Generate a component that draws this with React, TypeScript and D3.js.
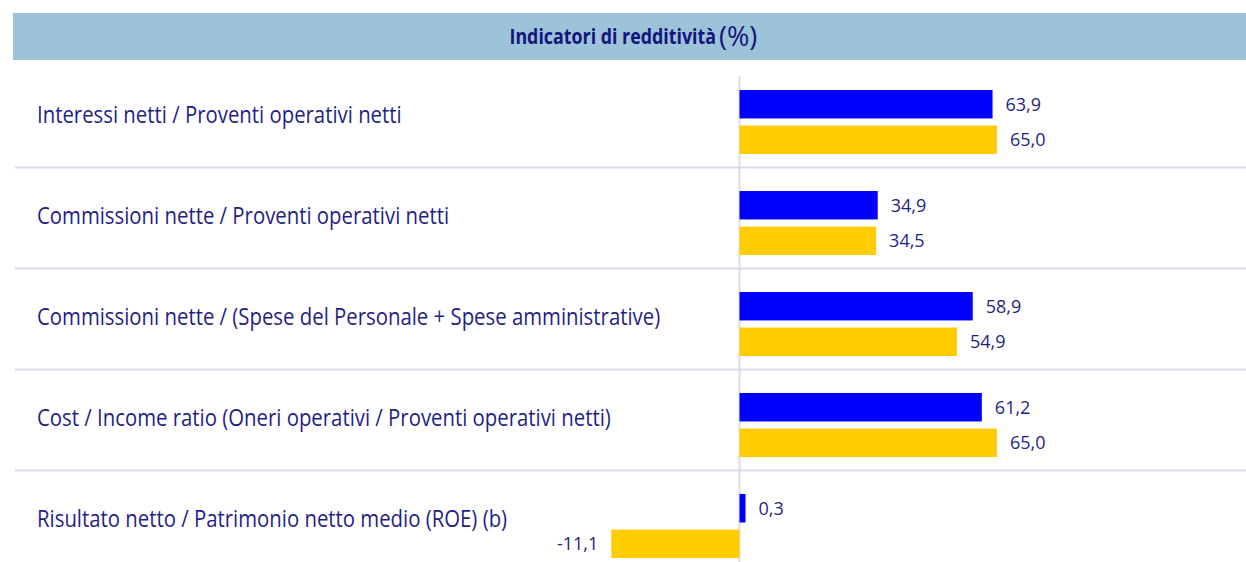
import React from 'react';
import * as d3 from 'd3';

// indicatori (etichette di riga)
const categories = [
  'Interessi netti / Proventi operativi netti',
  'Commissioni nette / Proventi operativi netti',
  'Commissioni nette / (Spese del Personale + Spese amministrative)',
  'Cost / Income ratio (Oneri operativi / Proventi operativi netti)',
  'Risultato netto / Patrimonio netto medio (ROE) (b)',
];
// serie blu (anno corrente) e gialla (anno precedente)
const seriesBlue = [63.9, 34.9, 58.9, 61.2, 0.3];
const seriesYellow = [65.0, 34.5, 54.9, 65.0, -11.1];
const seriesKeys = ['blue', 'yellow'];

const W = 1246;
const H = 562;
const NAVY = '#1f1f86';
const fmt = (v: number) => d3.format('.1f')(v).replace('.', ',').replace('−', '-');

export default function App() {
  // righe
  const y = d3.scaleBand<string>().domain(categories).range([66.5, 571.5]);
  const inner = d3.scaleBand<string>().domain(seriesKeys).range([23.5, 87.5]).paddingInner(0.2);

  // scala per i primi 4 indicatori, la riga ROE ha una sua scala (pannello a parte nell'originale)
  const x = d3.scaleLinear().domain([0, 65]).range([739.5, 739.5 + 65 * 3.96]);
  const xRoe = d3.scaleLinear().domain([-12, 0]).range([739.5 - 12 * 11.55, 739.5]);

  const rows = categories.map((c, i) => ({
    cat: c,
    vals: [seriesBlue[i], seriesYellow[i]],
    sx: i === categories.length - 1 ? xRoe : x,
  }));

  return (
    <div style={{ position: 'absolute', left: 0, top: 0 }}>
      <svg width={W} height={H} style={{ display: 'block', fontFamily: '"Open Sans", sans-serif' }}>
        <rect x={0} y={0} width={W} height={H} fill="#fff" />
        {/* testata */}
        <rect x={13} y={13} width={W - 13} height={47} fill="#9cc3d7" />
        <g transform="translate(716,44) scale(0.85,1)">
          <text textAnchor="end" fontSize={21} fontWeight={700} fill="#14147e">
            Indicatori di redditività
          </text>
        </g>
        <text x={719} y={46} fontSize={27} fill="#14147e">(%)</text>

        {/* separatori */}
        {categories.slice(1).map((c) => (
          <line key={c} x1={15} x2={W} y1={y(c)!} y2={y(c)!} stroke="#dadcec" strokeWidth={2} />
        ))}
        {/* linea dello zero */}
        <line x1={x(0)} x2={x(0)} y1={76} y2={H} stroke="#dadcec" strokeWidth={2} />

        {rows.map((r) => {
          const y0 = y(r.cat)!;
          const cy = y0 + y.bandwidth() / 2;
          return (
            <g key={r.cat}>
              <g transform={`translate(37,${cy + 6}) scale(0.885,1)`}>
                <text fontSize={23} fill={NAVY}>{r.cat}</text>
              </g>
              {r.vals.map((v, j) => {
                const k = seriesKeys[j];
                const z = r.sx(0);
                const end = r.sx(v);
                let w = Math.abs(end - z);
                if (w < 6) w = 6;
                const bx = v >= 0 ? z : z - w;
                const by = y0 + inner(k)!;
                const bh = inner.bandwidth();
                return (
                  <g key={k}>
                    <rect x={bx} y={by} width={w} height={bh} fill={j === 0 ? '#0000ff' : '#ffcc00'} />
                    <text
                      x={v >= 0 ? bx + w + 13 : bx - 13}
                      y={by + bh / 2}
                      dy="0.35em"
                      textAnchor={v >= 0 ? 'start' : 'end'}
                      fontSize={18}
                      fill={NAVY}
                    >
                      {fmt(v)}
                    </text>
                  </g>
                );
              })}
            </g>
          );
        })}
      </svg>
    </div>
  );
}
